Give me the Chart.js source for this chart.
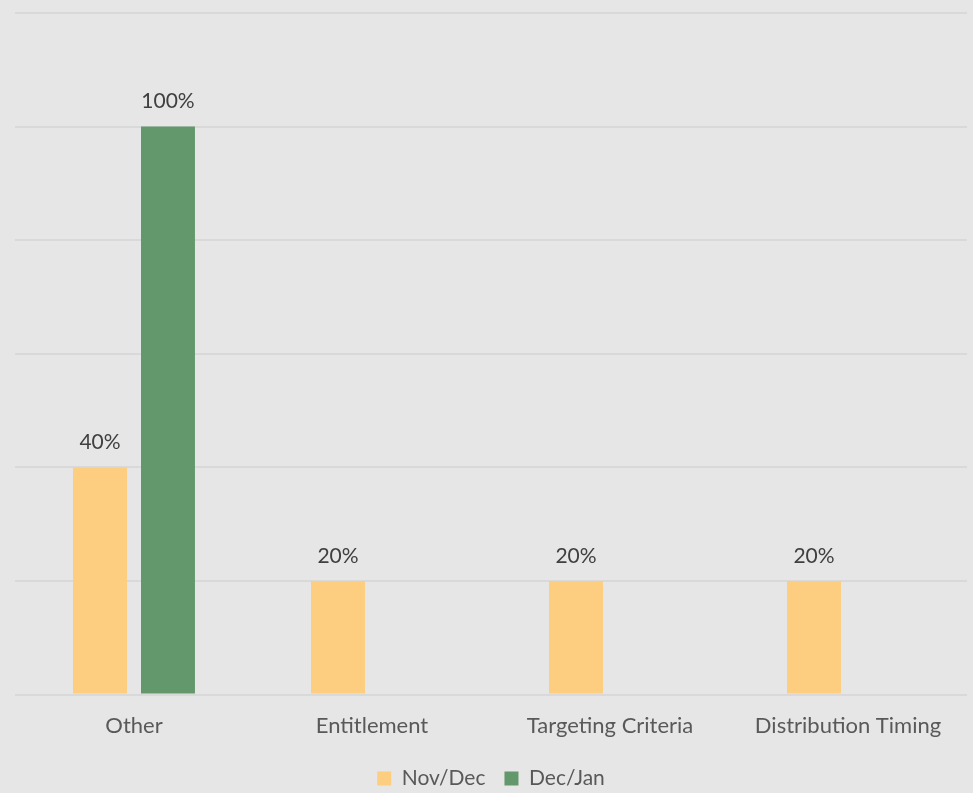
<!DOCTYPE html>
<html>
<head>
<meta charset="utf-8">
<script src="https://cdn.jsdelivr.net/npm/chart.js@4"></script>
<style>
  html, body { margin: 0; padding: 0; background: #e6e6e6; }
  #wrap { width: 973px; height: 793px; position: relative; }
</style>
</head>
<body>
<div id="wrap"><canvas id="c"></canvas></div>
<script>
const categories = ['Other', 'Entitlement', 'Targeting Criteria', 'Distribution Timing'];
const seriesNames = ['Nov/Dec', 'Dec/Jan'];
const novDec = [40, 20, 20, 20];
const decJan = [100, null, null, null];
const yTicks = [0, 20, 40, 60, 80, 100, 120];

const FONT = 'Lato, "Open Sans", sans-serif';

// Percentage labels drawn just above each bar
const barLabels = {
  id: 'barLabels',
  afterDatasetsDraw(chart) {
    const ctx = chart.ctx;
    ctx.save();
    ctx.font = '21px ' + FONT;
    ctx.fillStyle = '#404040';
    ctx.textAlign = 'center';
    ctx.textBaseline = 'middle';
    chart.data.datasets.forEach((ds, i) => {
      const meta = chart.getDatasetMeta(i);
      meta.data.forEach((bar, j) => {
        const v = ds.data[j];
        if (v === null || v === undefined) return;
        ctx.fillText(v + '%', bar.x, bar.y - 25);
      });
    });
    ctx.restore();
  }
};

new Chart(document.getElementById('c'), {
  type: 'bar',
  data: {
    labels: categories,
    datasets: [
      { label: seriesNames[0], data: novDec, backgroundColor: '#fdcd80' },
      { label: seriesNames[1], data: decJan, backgroundColor: '#63976c' }
    ]
  },
  options: {
    responsive: true,
    maintainAspectRatio: false,
    animation: false,
    layout: { padding: { left: 15, right: 6, top: 13, bottom: -6 } },
    datasets: { bar: { categoryPercentage: 0.571, barPercentage: 0.794 } },
    scales: {
      x: {
        grid: { display: false },
        border: { display: false },
        ticks: { color: '#595959', font: { family: FONT, size: 22 }, padding: 10 }
      },
      y: {
        min: 0, max: 120,
        afterBuildTicks(axis) { axis.ticks = yTicks.map(v => ({ value: v })); },
        grid: { color: '#d9d9d9', lineWidth: 2, drawTicks: false },
        border: { display: false },
        ticks: { display: false }
      }
    },
    plugins: {
      legend: {
        position: 'bottom',
        labels: {
          color: '#595959',
          font: { family: FONT, size: 21 },
          boxWidth: 14, boxHeight: 14, padding: 19
        }
      },
      tooltip: { enabled: false }
    }
  },
  plugins: [barLabels]
});
</script>
</body>
</html>
